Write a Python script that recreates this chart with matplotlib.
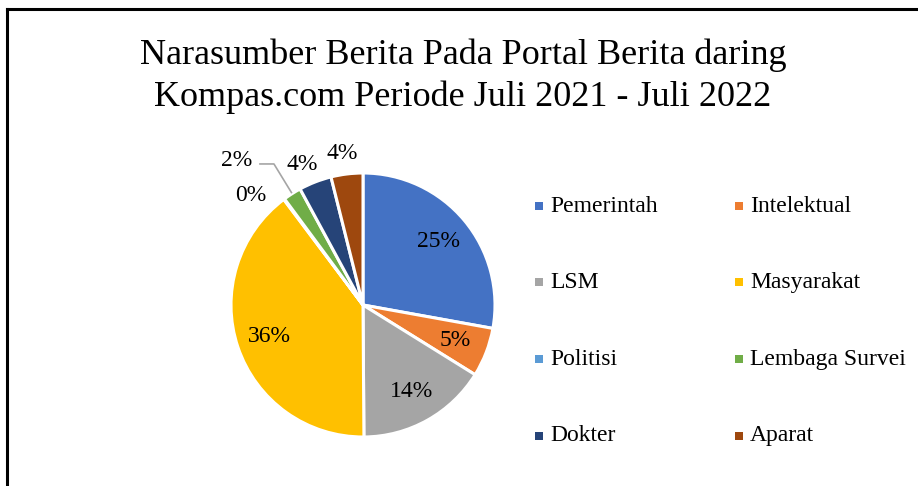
import matplotlib.pyplot as plt
from matplotlib.patches import Rectangle
from matplotlib.lines import Line2D
import numpy as np

plt.rcParams['font.family'] = ['Liberation Serif', 'DejaVu Serif']

# data (labels show the raw values rounded, the pie normalises them)
categories = ["Pemerintah", "Intelektual", "LSM", "Masyarakat",
              "Politisi", "Lembaga Survei", "Dokter", "Aparat"]
values = [25.0, 5.4, 14.4, 35.8, 0.1, 2.0, 3.6, 3.5]
colors = ["#4472C4", "#ED7D31", "#A5A5A5", "#FFC000",
          "#5B9BD5", "#70AD47", "#264478", "#9E480E"]

# outside labels: index -> (radius, angle shift in degrees)
outside = {4: (1.19, 9), 5: (1.45, 8.7), 6: (1.164, 2.2), 7: (1.155, 0.9)}

W, H = 918, 486
fig = plt.figure(figsize=(W / 100, H / 100), dpi=100)

# border (top and left only, like the source picture)
fig.add_artist(Line2D([7 / W, 1], [1 - 9 / H, 1 - 9 / H], color="black", lw=2.2))
fig.add_artist(Line2D([7 / W, 7 / W], [0, 1 - 9 / H], color="black", lw=2.2))

fig.text(463 / W, 1 - 39 / H, "Narasumber Berita Pada Portal Berita daring\nKompas.com Periode Juli 2021 - Juli 2022",
         ha="center", va="top", fontsize=26, linespacing=1.32)

cx, cy, r = 363, 305, 132
ax = fig.add_axes([(cx - r) / W, (H - cy - r) / H, 2 * r / W, 2 * r / H])
wedges, _ = ax.pie(values, colors=colors, startangle=90, counterclock=False,
                   wedgeprops=dict(edgecolor="white", linewidth=2.2))
ax.set_xlim(-1, 1)
ax.set_ylim(-1, 1)
ax.axis("off")

for i, w in enumerate(wedges):
    mid = (w.theta1 + w.theta2) / 2
    txt = f"{values[i]:.0f}%"
    if i in outside:
        rad, shift = outside[i]
        a = np.radians(mid + shift)
        x, y = rad * np.cos(a), rad * np.sin(a)
        ax.text(x, y, txt, ha="center", va="center", fontsize=17, clip_on=False)
        if i == 5:
            # leader line for the thin slice
            a0 = np.radians(mid)
            ax.plot([x + 0.174, x + 0.28, 1.01 * np.cos(a0)],
                    [y - 0.023, y - 0.023, 1.01 * np.sin(a0)], color="#A5A5A5", lw=1.2, clip_on=False)
    else:
        a = np.radians(mid)
        ax.text(0.75 * np.cos(a), 0.75 * np.sin(a), txt, ha="center", va="center", fontsize=17)

# legend in two columns
for i, name in enumerate(categories):
    col, row = i % 2, i // 2
    mx = 535 + col * 200
    my = 206 + row * 76.5
    fig.add_artist(Rectangle((mx / W, 1 - (my + 4) / H), 8 / W, 8 / H,
                             facecolor=colors[i], edgecolor="none"))
    fig.text((mx + 15) / W, 1 - my / H, name, ha="left", va="center", fontsize=17)

fig.savefig("out.png", dpi=100)
